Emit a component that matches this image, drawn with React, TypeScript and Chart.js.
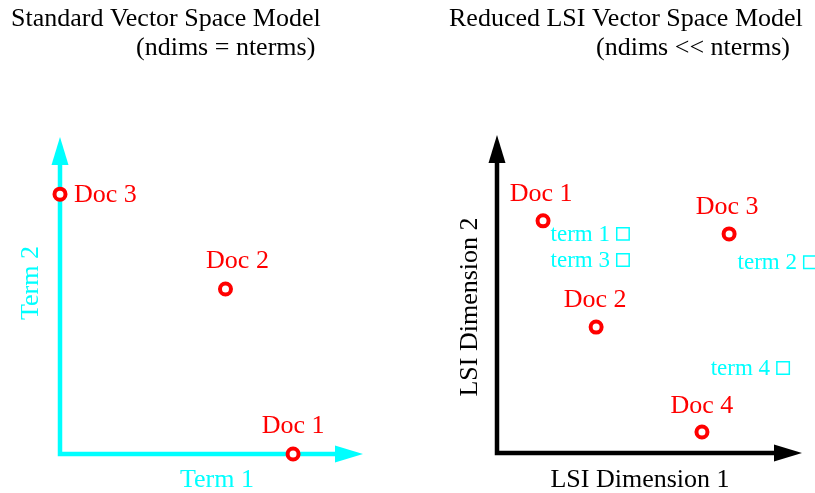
import React, { useEffect, useRef } from 'react';
import { Chart, registerables } from 'chart.js';

Chart.register(...registerables);

const FONT = '"Liberation Serif", "Times New Roman", Times, serif';
const RED = '#ff0000';
const CYAN = '#00ffff';
const BLACK = '#000000';

// ---------- Left panel: standard vector space model ----------
const stdTitle = ['Standard Vector Space Model', '(ndims = nterms)'];
const stdAxisTitles = ['Term 1', 'Term 2'];
const stdDocLabels = ['Doc 1', 'Doc 2', 'Doc 3'];
const stdDocTerm1 = [1.0, 0.71, 0.0];
const stdDocTerm2 = [0.0, 0.635, 1.0];
const stdXRange = [0, 1.3];
const stdYRange = [0, 1.22];

// ---------- Right panel: reduced LSI vector space model ----------
const lsiTitle = ['Reduced LSI Vector Space Model', '(ndims << nterms)'];
const lsiAxisTitles = ['LSI Dimension 1', 'LSI Dimension 2'];
const lsiDocLabels = ['Doc 1', 'Doc 2', 'Doc 3', 'Doc 4'];
const lsiDocDim1 = [0.151, 0.325, 0.761, 0.672];
const lsiDocDim2 = [0.73, 0.396, 0.689, 0.066];
const lsiTermLabels = ['term 1', 'term 2', 'term 3', 'term 4'];
const lsiTermDim1 = [0.413, 1.026, 0.413, 0.938];
const lsiTermDim2 = [0.689, 0.6, 0.607, 0.267];
const lsiXRange = [0, 1];
const lsiYRange = [0, 1];

const toPoints = (xs: number[], ys: number[]) => xs.map((x, i) => ({ x, y: ys[i] }));

const decorPlugin = {
  id: 'decor',
  beforeDatasetsDraw(chart: any, _a: any, opts: any) {
    const { ctx } = chart;
    const xs = chart.scales.x;
    const ys = chart.scales.y;
    const ox = xs.getPixelForValue(0);
    const oy = ys.getPixelForValue(0);
    const tipX = xs.right;
    const tipY = ys.top;
    const L = opts.arrowLen;
    const H = opts.arrowHalf;
    ctx.save();
    ctx.strokeStyle = opts.color;
    ctx.fillStyle = opts.color;
    ctx.lineWidth = opts.lineWidth;
    ctx.lineJoin = 'miter';
    ctx.lineCap = 'butt';
    ctx.beginPath();
    ctx.moveTo(ox, tipY + L - 1);
    ctx.lineTo(ox, oy);
    ctx.lineTo(tipX - L + 1, oy);
    ctx.stroke();
    ctx.beginPath();
    ctx.moveTo(tipX, oy);
    ctx.lineTo(tipX - L, oy - H);
    ctx.lineTo(tipX - L, oy + H);
    ctx.closePath();
    ctx.fill();
    ctx.beginPath();
    ctx.moveTo(ox, tipY);
    ctx.lineTo(ox - H, tipY + L);
    ctx.lineTo(ox + H, tipY + L);
    ctx.closePath();
    ctx.fill();

    // axis titles
    ctx.font = `26px ${FONT}`;
    ctx.fillStyle = opts.titleColor;
    ctx.textAlign = 'center';
    ctx.textBaseline = 'alphabetic';
    const xt = opts.xTitle;
    ctx.fillText(xt.text, xt.x, xt.y);
    const yt = opts.yTitle;
    ctx.save();
    ctx.translate(yt.x, yt.y);
    ctx.rotate(-Math.PI / 2);
    ctx.fillText(yt.text, 0, 0);
    ctx.restore();

    // panel titles
    ctx.fillStyle = BLACK;
    ctx.textAlign = 'left';
    (opts.titles || []).forEach((t: any) => ctx.fillText(t.text, t.x, t.y));
    ctx.restore();
  },
  afterDatasetsDraw(chart: any) {
    const { ctx } = chart;
    chart.data.datasets.forEach((ds: any, i: number) => {
      if (!ds.pointLabels) return;
      const meta = chart.getDatasetMeta(i);
      ctx.save();
      ctx.font = ds.labelFont;
      ctx.fillStyle = ds.labelColor;
      ctx.textBaseline = 'alphabetic';
      meta.data.forEach((pt: any, j: number) => {
        ctx.textAlign = ds.labelAlign[j];
        ctx.fillText(ds.pointLabels[j], pt.x + ds.labelDx[j], pt.y + ds.labelDy[j]);
      });
      ctx.restore();
    });
  },
};

const baseScales = (xr: number[], yr: number[]) => ({
  x: { type: 'linear', min: xr[0], max: xr[1], display: false },
  y: { type: 'linear', min: yr[0], max: yr[1], display: false },
});

const docStyle = {
  pointStyle: 'circle',
  pointRadius: 5.5,
  pointBorderWidth: 4,
  pointBorderColor: RED,
  pointBackgroundColor: '#ffffff',
  showLine: false,
  clip: false,
  labelFont: `26px ${FONT}`,
  labelColor: RED,
};

export default function App() {
  const leftRef = useRef<HTMLCanvasElement>(null);
  const rightRef = useRef<HTMLCanvasElement>(null);

  useEffect(() => {
    const left = new Chart(leftRef.current as HTMLCanvasElement, {
      type: 'scatter',
      data: {
        datasets: [
          {
            ...docStyle,
            label: 'Documents',
            data: toPoints(stdDocTerm1, stdDocTerm2),
            pointLabels: stdDocLabels,
            labelAlign: ['center', 'center', 'left'],
            labelDx: [0, 12, 14],
            labelDy: [-21, -21, 8],
          } as any,
        ],
      },
      options: {
        responsive: false,
        animation: false,
        events: [],
        layout: { padding: { left: 60, right: 47, top: 137, bottom: 39 } },
        scales: baseScales(stdXRange, stdYRange) as any,
        plugins: {
          legend: { display: false },
          tooltip: { enabled: false },
          decor: {
            color: CYAN,
            lineWidth: 4.5,
            arrowLen: 28,
            arrowHalf: 8.5,
            titleColor: CYAN,
            xTitle: { text: stdAxisTitles[0], x: 217, y: 487 },
            yTitle: { text: stdAxisTitles[1], x: 38, y: 283 },
            titles: [
              { text: stdTitle[0], x: 11, y: 26 },
              { text: stdTitle[1], x: 136, y: 55 },
            ],
          },
        } as any,
      },
      plugins: [decorPlugin],
    });

    const right = new Chart(rightRef.current as HTMLCanvasElement, {
      type: 'scatter',
      data: {
        datasets: [
          {
            label: 'Terms',
            data: toPoints(lsiTermDim1, lsiTermDim2),
            pointStyle: 'rect',
            pointRadius: 8.8,
            pointBorderWidth: 1.5,
            pointBorderColor: CYAN,
            pointBackgroundColor: 'rgba(255,255,255,0)',
            showLine: false,
            clip: false,
            pointLabels: lsiTermLabels,
            labelFont: `23px ${FONT}`,
            labelColor: CYAN,
            labelAlign: ['right', 'right', 'right', 'right'],
            labelDx: [-13, -13, -13, -13],
            labelDy: [7, 7, 7, 7],
          } as any,
          {
            ...docStyle,
            label: 'Documents',
            data: toPoints(lsiDocDim1, lsiDocDim2),
            pointLabels: lsiDocLabels,
            labelAlign: ['center', 'center', 'center', 'center'],
            labelDx: [-2, -1, -2, 0],
            labelDy: [-20, -20, -20, -19],
          } as any,
        ],
      },
      options: {
        responsive: false,
        animation: false,
        events: [],
        layout: { padding: { left: 87, right: 13, top: 135, bottom: 40 } },
        scales: baseScales(lsiXRange, lsiYRange) as any,
        plugins: {
          legend: { display: false },
          tooltip: { enabled: false },
          decor: {
            color: BLACK,
            lineWidth: 4.5,
            arrowLen: 28,
            arrowHalf: 8.5,
            titleColor: BLACK,
            xTitle: { text: lsiAxisTitles[0], x: 230, y: 487 },
            yTitle: { text: lsiAxisTitles[1], x: 67, y: 307 },
            titles: [
              { text: lsiTitle[0], x: 39, y: 26 },
              { text: lsiTitle[1], x: 186, y: 55 },
            ],
          },
        } as any,
      },
      plugins: [decorPlugin],
    });

    return () => {
      left.destroy();
      right.destroy();
    };
  }, []);

  return (
    <div style={{ position: 'absolute', left: 0, top: 0, width: 815, height: 493, background: '#ffffff', overflow: 'hidden' }}>
      <canvas
        ref={leftRef}
        width={410}
        height={493}
        style={{ position: 'absolute', left: 0, top: 0, width: 410, height: 493 }}
      />
      <canvas
        ref={rightRef}
        width={405}
        height={493}
        style={{ position: 'absolute', left: 410, top: 0, width: 405, height: 493 }}
      />
    </div>
  );
}
